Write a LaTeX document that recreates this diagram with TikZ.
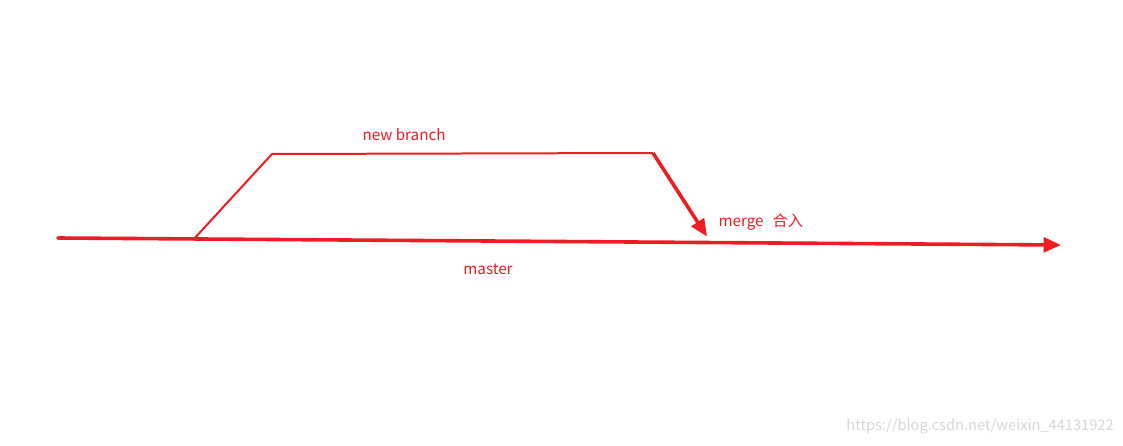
\documentclass[tikz,border=0pt]{standalone}
\usepackage{fontspec}
\setmainfont{Noto Sans CJK SC}
\usepackage{xcolor}
\usetikzlibrary{positioning, calc, arrows.meta}

\begin{document}
\begin{tikzpicture}[
  x=0.0264cm, y=-0.0264cm,
  font=\fontsize{11.4}{13}\selectfont,
  branchline/.style={cgit, line width=1.5pt},
  mainline/.style={cgit, line width=2.7pt, line cap=round},
  tiplabel/.style={text=cgit, inner sep=1pt},
]
\definecolor{cgit}{HTML}{ED1C24}    % red strokes and labels
\definecolor{cmark}{HTML}{D6D6D6}   % faint watermark

% -------- page frame --------
\useasboundingbox (0,0) rectangle (1123,446);

% =====================================================================
% master line
% =====================================================================
\coordinate (mStart) at (58,238);
\coordinate (mFork)  at (194,238.9);
\coordinate (mJoin)  at (707,241.6);
\coordinate (mEnd)   at (1061,245);

\draw[mainline, -{Triangle[length=13pt, width=11pt]}] (mStart) -- (mEnd);

% =====================================================================
% new branch, merged back
% =====================================================================
\coordinate (bUp)   at (272,154);
\coordinate (bDown) at (653,153);

\draw[branchline, line join=miter] (mFork) -- (bUp) -- (bDown);
\draw[mainline, line cap=butt, -{Triangle[length=13pt, width=11pt]}]
  (bDown) -- ($(mJoin)+(0,-5)$);

% labels
\node[tiplabel] (lBranch) at (404,135) {new branch};
\node[tiplabel] (lMaster) at (488,269) {master};
\node[tiplabel, anchor=west] (lMerge) at (717,222) {merge\hspace{0.6em}合入};

% watermark
\node[text=cmark, font=\fontsize{11}{13}\selectfont, anchor=east, inner sep=0pt] (wMark)
  at (1114,427) {https://blog.csdn.net/weixin\_44131922};

\end{tikzpicture}
\end{document}
